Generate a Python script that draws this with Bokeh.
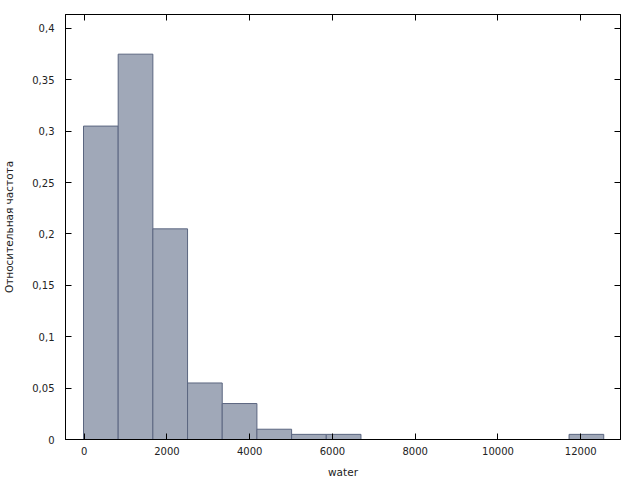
from bokeh.plotting import figure
from bokeh.models import (LinearAxis, FixedTicker, CustomJSTickFormatter,
                          Range1d, ColumnDataSource)
from bokeh.embed import file_html
from bokeh.resources import INLINE

# Histogram of "water": bin left edges, bin width and relative frequencies
bin_lefts = [-15, 823, 1661, 2499, 3337, 4175, 5013, 5851, 6689, 7527,
             8365, 9203, 10041, 10879, 11717]
bin_width = 838
rel_freq = [0.305, 0.375, 0.205, 0.055, 0.035, 0.010, 0.005, 0.005, 0.0, 0.0,
            0.0, 0.0, 0.0, 0.0, 0.005]

x_ticks = [0, 2000, 4000, 6000, 8000, 10000, 12000]
y_ticks = [0, 0.05, 0.1, 0.15, 0.2, 0.25, 0.3, 0.35, 0.4]
x_label = "water"
y_label = "Относительная частота"

FONT = "DejaVu Sans"

src = ColumnDataSource(dict(
    left=bin_lefts,
    right=[l + bin_width for l in bin_lefts],
    top=rel_freq,
    bottom=[0.0] * len(rel_freq),
))

p = figure(width=640, height=480, output_backend="svg", toolbar_location=None,
           x_range=Range1d(-450, 12960), y_range=Range1d(0, 0.4136),
           x_axis_location=None, y_axis_location=None,
           min_border_left=65, min_border_right=20, min_border_top=14,
           min_border_bottom=41)
p.xgrid.visible = False
p.ygrid.visible = False
p.outline_line_color = "black"
p.outline_line_width = 1
p.background_fill_color = "white"
p.border_fill_color = "white"

p.quad(left="left", right="right", top="top", bottom="bottom", source=src,
       fill_color="#a0a8b8", line_color="#5b6680", line_width=1)

yfmt = CustomJSTickFormatter(code="""
var s = tick.toFixed(2).replace(/0+$/, '').replace(/\\.$/, '');
return s.replace('.', ',');
""")
blank = CustomJSTickFormatter(code="return '';")


def style(ax):
    ax.axis_line_color = "black"
    ax.major_tick_in = 6
    ax.major_tick_out = 0
    ax.minor_tick_line_color = None
    ax.major_tick_line_color = "black"
    ax.major_label_text_font = FONT
    ax.major_label_text_font_size = "10px"
    ax.major_label_text_color = "#222222"
    ax.axis_label_text_font = FONT
    ax.axis_label_text_font_size = "10.5px"
    ax.axis_label_text_font_style = "normal"
    ax.axis_label_text_color = "#222222"


bx = LinearAxis(ticker=FixedTicker(ticks=x_ticks), axis_label=x_label)
style(bx)
bx.major_label_standoff = 7
bx.axis_label_standoff = 8

tx = LinearAxis(ticker=FixedTicker(ticks=x_ticks), formatter=blank)
style(tx)
tx.major_label_standoff = 0

ly = LinearAxis(ticker=FixedTicker(ticks=y_ticks), formatter=yfmt,
                axis_label=y_label)
style(ly)
ly.major_label_standoff = 11
ly.axis_label_standoff = 14

ry = LinearAxis(ticker=FixedTicker(ticks=y_ticks), formatter=blank)
style(ry)
ry.major_label_standoff = 0

p.add_layout(bx, "below")
p.add_layout(tx, "above")
p.add_layout(ly, "left")
p.add_layout(ry, "right")

open("out.html", "w").write(file_html(p, INLINE))
